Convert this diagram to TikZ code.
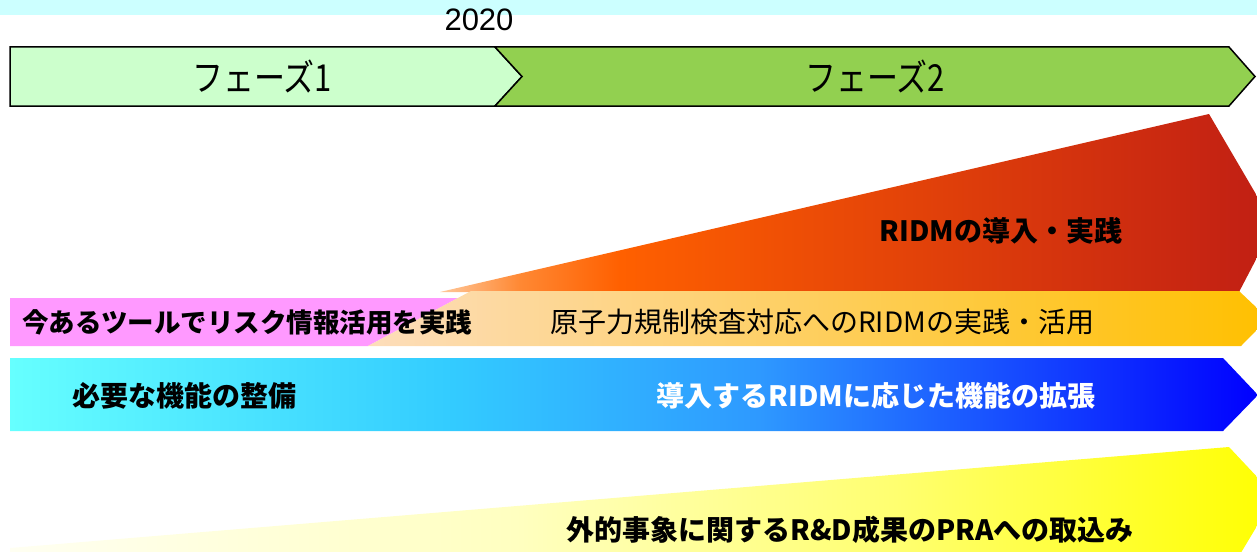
\documentclass[tikz,border=0pt]{standalone}
\usepackage{fontspec}
\newfontfamily\jp{Noto Sans CJK JP}
\setmainfont{Liberation Sans}
\definecolor{topband}{HTML}{CCFFFF}
\definecolor{ph1}{HTML}{CCFFCC}
\definecolor{ph2}{HTML}{92D050}
\definecolor{pinkc}{HTML}{FF99FF}
\definecolor{r0}{HTML}{FFC89A}
\definecolor{r1}{HTML}{FF8833}
\definecolor{r2}{HTML}{FF6000}
\definecolor{r3}{HTML}{C01E14}
\definecolor{o0}{HTML}{FDDDBB}
\definecolor{o1}{HTML}{FFC000}
\definecolor{b0}{HTML}{66FFFF}
\definecolor{b1}{HTML}{33CCFF}
\definecolor{b2}{HTML}{2E99FF}
\definecolor{b3}{HTML}{0000FF}
\definecolor{y0}{HTML}{FFFFF2}
\definecolor{y1}{HTML}{FFFFC0}
\definecolor{y2}{HTML}{FFFF70}
\definecolor{y3}{HTML}{FFFF00}
\pgfdeclarehorizontalshading{redsh}{100bp}{color(0bp)=(r0); color(25bp)=(r0); color(29.8bp)=(r1); color(35.8bp)=(r2); color(75bp)=(r3); color(100bp)=(r3)}
\pgfdeclarehorizontalshading{bluesh}{100bp}{color(0bp)=(b0); color(25bp)=(b0); color(42.5bp)=(b1); color(55bp)=(b2); color(75bp)=(b3); color(100bp)=(b3)}
\pgfdeclarehorizontalshading{yelsh}{100bp}{color(0bp)=(y0); color(25bp)=(y0); color(45bp)=(y1); color(60bp)=(y2); color(75bp)=(y3); color(100bp)=(y3)}
\tikzset{
  phase/.style={draw=black, line width=1.5pt, line join=miter},
  lbl/.style={inner sep=0pt, anchor=center},
  jpbold/.style={lbl, font=\jp\bfseries\fontsize{28}{30}\selectfont},
  jpreg/.style={lbl, font=\jp\fontsize{28}{30}\selectfont},
  phaselbl/.style={lbl, font=\jp\fontsize{31}{33}\selectfont, yscale=1.2, transform shape},
}
\begin{document}
\begin{tikzpicture}[x=1pt,y=-1pt]
\useasboundingbox (0,0) rectangle (1257,551);
\clip (0,0) rectangle (1257,551);
% top band
\fill[topband] (0,0) rectangle (1257,15);
\node[lbl, font=\fontsize{31}{33}\selectfont] (year) at (479,20) {2020};
% phases
\draw[phase, fill=ph1] (10,47) -- (495,47) -- (522,76.5) -- (495,106) -- (10,106) -- cycle;
\draw[phase, fill=ph2] (495,47) -- (1229,47) -- (1255,76.5) -- (1229,106) -- (495,106) -- (522,76.5) -- cycle;
\node[phaselbl] (p1) at (262,77) {フェーズ1};
\node[phaselbl] (p2) at (875,77) {フェーズ2};
% red wedge
\shade[shading=redsh] (440,292) -- (1209,114) -- (1274,225) -- (1239,292) -- cycle;
\node[jpbold] (ridm) at (1001,231) {RIDMの導入・実践};
% pink and orange bars
\fill[pinkc] (10,298) -- (458,298) -- (368,346) -- (10,346) -- cycle;
\shade[left color=o0, right color=o1] (471,291) -- (1239,291) -- (1268,318.5) -- (1241,346) -- (368,346) -- cycle;
\node[jpbold, anchor=west, font=\jp\bfseries\fontsize{26.5}{28}\selectfont] (tool) at (22,322) {今あるツールでリスク情報活用を実践};
\node[jpreg] (insp) at (822,322) {原子力規制検査対応へのRIDMの実践・活用};
% blue bar
\shade[shading=bluesh] (10,358) -- (1223,358) -- (1258,395) -- (1223,431) -- (10,431) -- cycle;
\node[jpbold] (need) at (184,396) {必要な機能の整備};
\node[jpbold, text=white] (ext) at (876,396) {導入するRIDMに応じた機能の拡張};
% yellow wedge
\shade[shading=yelsh] (10,548) -- (1229,447) -- (1275,496) -- (1239,556) -- (10,556) -- cycle;
\node[jpbold] (pra) at (850,530) {外的事象に関するR\&D成果のPRAへの取込み};
\end{tikzpicture}
\end{document}
